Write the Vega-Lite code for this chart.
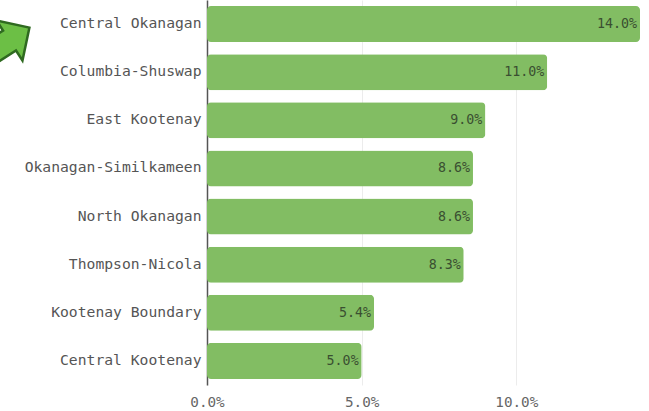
{
  "$schema": "https://vega.github.io/schema/vega-lite/v6.json",
  "width": 433,
  "height": 385,
  "autosize": "none",
  "padding": {"left": 207, "top": 0, "right": 9, "bottom": 26},
  "background": "white",
  "data": {"values": [
    {"region": "Central Okanagan", "share": 0.140},
    {"region": "Columbia-Shuswap", "share": 0.110},
    {"region": "East Kootenay", "share": 0.090},
    {"region": "Okanagan-Similkameen", "share": 0.086},
    {"region": "North Okanagan", "share": 0.086},
    {"region": "Thompson-Nicola", "share": 0.083},
    {"region": "Kootenay Boundary", "share": 0.054},
    {"region": "Central Kootenay", "share": 0.050}
  ]},
  "config": {
    "view": {"stroke": null},
    "font": "DejaVu Sans Mono"
  },
  "encoding": {
    "y": {"field": "region", "type": "nominal", "sort": null,
      "scale": {"paddingInner": 0.25, "paddingOuter": 0.125},
      "axis": {"title": null, "ticks": false, "labelPadding": 6, "labelFontSize": 14.7, "labelColor": "#555555", "labelFont": "DejaVu Sans Mono", "domainColor": "#555555", "domainWidth": 1.5, "grid": false}},
    "x": {"field": "share", "type": "quantitative",
      "scale": {"domain": [0, 0.14], "nice": false},
      "axis": {"title": null, "values": [0, 0.05, 0.1], "format": ".1%", "ticks": false, "domain": false, "labelPadding": 10, "labelFontSize": 14.3, "labelColor": "#666666", "labelFont": "DejaVu Sans Mono", "gridColor": "#ececec", "gridWidth": 1, "labelFlush": false}}
  },
  "layer": [
    {"mark": {"type": "bar", "color": "#82bd63", "cornerRadius": 4}},
    {"mark": {"type": "text", "align": "right", "dx": -3, "fontSize": 13.3, "color": "#3a4f31", "font": "DejaVu Sans Mono"},
      "encoding": {"text": {"field": "share", "type": "quantitative", "format": ".1%"}}},
    {"data": {"values": [{"region": "Central Okanagan", "share": 0}]},
      "mark": {"type": "point", "shape": "M0,-1 L0.7,-0.3 L0.35,-0.3 L0.35,1 L-0.35,1 L-0.35,-0.3 L-0.7,-0.3 Z", "angle": 57, "size": 4600, "filled": true, "fill": "#6cbf45", "stroke": "#2f6a20", "strokeWidth": 2.5, "strokeJoin": "miter", "opacity": 1, "xOffset": -206, "yOffset": 22, "clip": false}}
  ]
}
